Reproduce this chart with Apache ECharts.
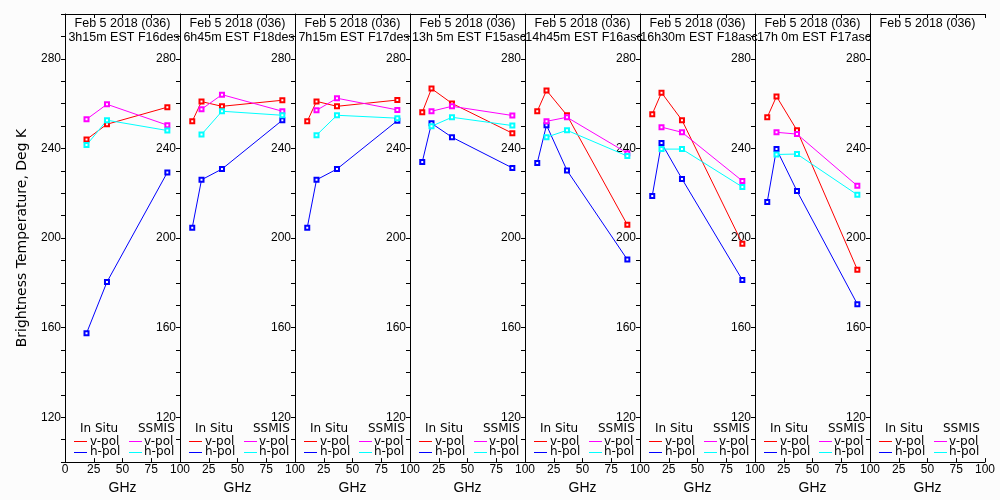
<!DOCTYPE html>
<html>
<head>
<meta charset="utf-8">
<script src="https://cdn.jsdelivr.net/npm/echarts@6/dist/echarts.min.js"></script>
<style>
  html, body { margin: 0; padding: 0; background: #fcfcfc; }
  #main { width: 1000px; height: 500px; }
</style>
</head>
<body>
<div id="main"></div>
<script>
// frequencies (GHz)
const freqInSitu = [10.65, 18.7, 36.5, 89.0];
const freqSsmis = [18.7, 36.5, 89.0];

const titleLine1 = 'Feb 5 2018 (036)';
const titleLine2 = ['3h15m EST F16des', '6h45m EST F18des', '7h15m EST F17des', '13h 5m EST F15asc',
                    '14h45m EST F16asc', '16h30m EST F18asc', '17h 0m EST F17asc', ''];

// brightness temperatures (K), one row per panel
const inSituV = [
  [null, 244.0, 250.8, 258.4],
  [252.1, 260.9, 258.8, 261.5],
  [252.1, 261.0, 258.8, 261.6],
  [256.1, 266.7, 260.1, 246.8],
  [256.6, 265.9, 254.8, 205.9],
  [255.3, 264.9, 252.6, 197.5],
  [253.9, 263.2, 248.1, 185.9],
  []
];
const inSituH = [
  [null, 157.5, 180.4, 229.3],
  [204.6, 226.0, 230.8, 252.6],
  [204.6, 226.0, 230.8, 252.4],
  [233.9, 251.2, 245.0, 231.3],
  [233.5, 250.4, 230.2, 190.4],
  [218.8, 242.4, 226.4, 181.3],
  [216.1, 239.7, 221.0, 170.5],
  []
];
const ssmisV = [
  [253.0, 259.7, 250.4],
  [257.5, 264.0, 256.6],
  [257.0, 262.4, 257.2],
  [256.6, 258.8, 254.7],
  [252.1, 253.9, 237.9],
  [249.5, 247.2, 225.5],
  [247.2, 246.4, 223.3],
  []
];
const ssmisH = [
  [241.5, 252.6, 248.0],
  [246.2, 256.6, 254.8],
  [245.9, 254.8, 253.5],
  [249.9, 253.9, 250.2],
  [245.0, 248.1, 236.6],
  [239.7, 239.7, 222.8],
  [237.3, 237.5, 219.3],
  []
];

const FONT = 'Liberation Sans';
const FONT2 = 'DejaVu Sans';
const BLACK = '#000';
const colors = { isv: '#ff0000', ish: '#0000ff', ssv: '#ff00ff', ssh: '#00ffff' };

let myChart = echarts.init(document.getElementById('main'));

const grids = [], xAxes = [], yAxes = [], series = [], graphics = [];

function makeSeries(name, i, freqs, vals, color) {
  const data = [];
  vals.forEach((v, k) => { if (v != null) data.push([freqs[k], v]); });
  return {
    name: name,
    type: 'line',
    xAxisIndex: 2 * i,
    yAxisIndex: i,
    data: data,
    symbol: 'emptyRect',
    symbolSize: 4,
    lineStyle: { color: color, width: 1 },
    itemStyle: { color: color, borderColor: color, borderWidth: 1 },
    emphasis: { disabled: true },
    animation: false
  };
}

function txt(x, y, text, align, font) {
  return {
    type: 'text', x: x, y: y, silent: true,
    style: {
      text: text, fill: BLACK, font: font,
      align: align, textAlign: align, verticalAlign: 'middle', textVerticalAlign: 'middle'
    }
  };
}

function seg(x1, x2, y, color) {
  return { type: 'line', silent: true, shape: { x1: x1, y1: y + 0.5, x2: x2, y2: y + 0.5 },
           style: { stroke: color, lineWidth: 1 } };
}

const titleFont = '12.5px ' + FONT;
const legendFont = '12px ' + FONT2;

for (let i = 0; i < 8; i++) {
  const L = 65 + i * 115;
  grids.push({ left: L, top: 14, width: 115, height: 450 });

  // bottom x axis
  xAxes.push({
    gridIndex: i, type: 'value', min: 0, max: 100, interval: 25, position: 'bottom',
    name: 'GHz', nameLocation: 'middle', nameGap: 15,
    nameTextStyle: { fontSize: 14, fontFamily: FONT, color: BLACK },
    axisLine: { show: true, lineStyle: { color: BLACK, width: 1 } },
    axisTick: { show: true, inside: true, length: 4, lineStyle: { color: BLACK } },
    axisLabel: { margin: 2, fontSize: 12, fontFamily: FONT, color: BLACK,
                 formatter: v => (i > 0 && v === 0) ? '' : String(v) },
    splitLine: { show: false }
  });
  // top x axis (frame + ticks)
  xAxes.push({
    gridIndex: i, type: 'value', min: 0, max: 100, interval: 25, position: 'top',
    axisLine: { show: true, lineStyle: { color: BLACK, width: 1 } },
    axisTick: { show: true, inside: true, length: 4, lineStyle: { color: BLACK } },
    axisLabel: { show: false },
    splitLine: { show: false }
  });
  yAxes.push({
    gridIndex: i, type: 'value', min: 100, max: 300, interval: 10, position: 'left',
    name: i === 0 ? 'Brightness Temperature, Deg K' : '',
    nameLocation: 'middle', nameGap: 36,
    nameTextStyle: { fontSize: 14, fontFamily: FONT2, color: BLACK },
    axisLine: { show: true, lineStyle: { color: BLACK, width: 1 } },
    axisTick: { show: true, inside: false, length: 4, lineStyle: { color: BLACK } },
    axisLabel: { margin: 4, fontSize: 12, fontFamily: FONT, color: BLACK,
                 formatter: v => ((v - 120) % 40 === 0 && v <= 280) ? String(v) : '' },
    splitLine: { show: false }
  });

  series.push(makeSeries('In Situ v-pol', i, freqInSitu, inSituV[i], colors.isv));
  series.push(makeSeries('In Situ h-pol', i, freqInSitu, inSituH[i], colors.ish));
  series.push(makeSeries('SSMIS v-pol', i, freqSsmis, ssmisV[i], colors.ssv));
  series.push(makeSeries('SSMIS h-pol', i, freqSsmis, ssmisH[i], colors.ssh));

  // panel titles
  graphics.push(txt(L + 57.5, 24, titleLine1, 'center', titleFont));
  if (titleLine2[i]) graphics.push(txt(L + 59, 38, titleLine2[i], 'center', titleFont));

  // panel legend
  graphics.push(txt(L + 15, 429, 'In Situ', 'left', legendFont));
  graphics.push(txt(L + 73, 429, 'SSMIS', 'left', legendFont));
  graphics.push(seg(L + 9, L + 22, 441, colors.isv));
  graphics.push(txt(L + 25, 442, 'v-pol', 'left', legendFont));
  graphics.push(seg(L + 9, L + 22, 452, colors.ish));
  graphics.push(txt(L + 25, 452, 'h-pol', 'left', legendFont));
  graphics.push(seg(L + 64, L + 77, 441, colors.ssv));
  graphics.push(txt(L + 79, 442, 'v-pol', 'left', legendFont));
  graphics.push(seg(L + 64, L + 77, 452, colors.ssh));
  graphics.push(txt(L + 79, 452, 'h-pol', 'left', legendFont));
}

// right frame of the last panel
yAxes.push({
  gridIndex: 7, type: 'value', min: 100, max: 300, interval: 10, position: 'right',
  axisLine: { show: true, lineStyle: { color: BLACK, width: 1 } },
  axisTick: { show: true, inside: true, length: 4, lineStyle: { color: BLACK } },
  axisLabel: { show: false },
  splitLine: { show: false }
});

var option = {
  backgroundColor: '#fcfcfc',
  animation: false,
  grid: grids,
  xAxis: xAxes,
  yAxis: yAxes,
  series: series,
  graphic: graphics
};
myChart.setOption(option);
</script>
</body>
</html>
